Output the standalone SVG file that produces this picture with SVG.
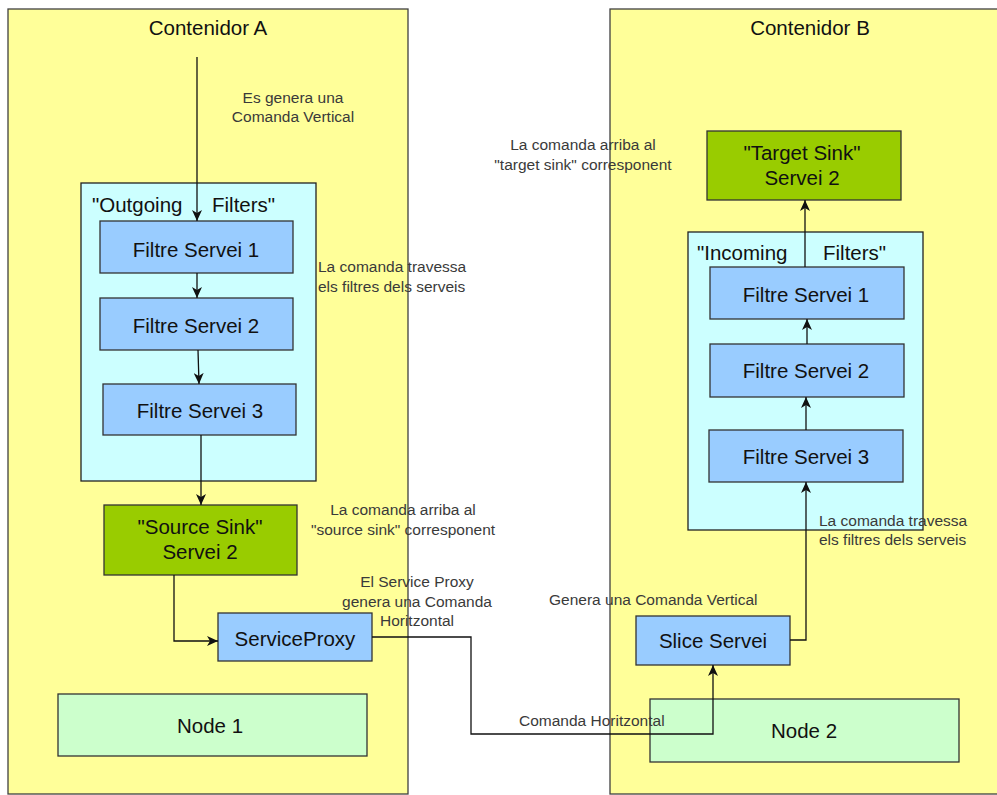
<svg xmlns="http://www.w3.org/2000/svg" width="997" height="795" viewBox="0 0 997 795">
<defs>
<style>
.cont{fill:#ffff99;stroke:#404040;stroke-width:1.3}
.grp{fill:#ccffff;stroke:#222;stroke-width:1.3}
.blue{fill:#99ccff;stroke:#333;stroke-width:1.3}
.sink{fill:#99cc00;stroke:#333;stroke-width:1.3}
.node{fill:#ccffcc;stroke:#333;stroke-width:1.3}
.t{font-family:"Liberation Sans",Arial,sans-serif;font-size:20.5px;fill:#111;text-anchor:middle}
.gt{font-family:"Liberation Sans",Arial,sans-serif;font-size:20.5px;fill:#111}
.lbl{font-family:"Liberation Sans",Arial,sans-serif;font-size:15.5px;fill:#3a3a3a}
.c{text-anchor:middle}
.ln{fill:none;stroke:#111;stroke-width:1.3}
</style>
<marker id="ah" markerUnits="userSpaceOnUse" markerWidth="12" markerHeight="10" refX="11" refY="5" orient="auto">
<path d="M0,0 L11,5 L0,10 L3,5 z" fill="#111"/>
</marker>
</defs>
<rect width="997" height="795" fill="#ffffff"/>

<g id="contenidorA">
<rect class="cont" x="8" y="9" width="400" height="785"/>
<text class="t" x="208" y="35">Contenidor A</text>
</g>
<g id="contenidorB">
<rect class="cont" x="610" y="9" width="400" height="785"/>
<text class="t" x="810" y="35">Contenidor B</text>
</g>

<g id="outgoingFilters">
<rect class="grp" x="81" y="183" width="235" height="298"/>
<text class="gt" x="92" y="212">"Outgoing <tspan x="212">Filters"</tspan></text>
</g>
<g id="incomingFilters">
<rect class="grp" x="688" y="232" width="235" height="298"/>
<text class="gt" x="697" y="260">"Incoming <tspan x="823">Filters"</tspan></text>
</g>

<g id="filtreA1"><rect class="blue" x="100" y="221" width="193" height="52"/><text class="t" x="196" y="257">Filtre Servei 1</text></g>
<g id="filtreA2"><rect class="blue" x="100" y="298" width="193" height="52"/><text class="t" x="196" y="333">Filtre Servei 2</text></g>
<g id="filtreA3"><rect class="blue" x="103" y="384" width="193" height="51"/><text class="t" x="200" y="418">Filtre Servei 3</text></g>
<g id="sourceSink"><rect class="sink" x="104" y="505" width="193" height="70"/><text class="t" x="200" y="534">"Source Sink"</text><text class="t" x="200" y="559">Servei 2</text></g>
<g id="serviceProxy"><rect class="blue" x="218" y="613" width="154" height="48"/><text class="t" x="295" y="646">ServiceProxy</text></g>
<g id="node1"><rect class="node" x="58" y="694" width="309" height="62"/><text class="t" x="210" y="733">Node 1</text></g>

<g id="targetSink"><rect class="sink" x="707" y="131" width="194" height="69"/><text class="t" x="802" y="160">"Target Sink"</text><text class="t" x="802" y="185">Servei 2</text></g>
<g id="filtreB1"><rect class="blue" x="710" y="267" width="194" height="52"/><text class="t" x="806" y="302">Filtre Servei 1</text></g>
<g id="filtreB2"><rect class="blue" x="710" y="344" width="194" height="53"/><text class="t" x="806" y="378">Filtre Servei 2</text></g>
<g id="filtreB3"><rect class="blue" x="709" y="430" width="194" height="52"/><text class="t" x="806" y="464">Filtre Servei 3</text></g>
<g id="sliceServei"><rect class="blue" x="636" y="616" width="154" height="49"/><text class="t" x="713" y="648">Slice Servei</text></g>
<g id="node2"><rect class="node" x="650" y="699" width="309" height="63"/><text class="t" x="804" y="738">Node 2</text></g>

<g id="connectors">
<path class="ln" d="M197,57 V221" marker-end="url(#ah)"/>
<path class="ln" d="M197,273 V298" marker-end="url(#ah)"/>
<path class="ln" d="M198,350 L199,384" marker-end="url(#ah)"/>
<path class="ln" d="M201,435 V505" marker-end="url(#ah)"/>
<path class="ln" d="M174,575 V641 H218" marker-end="url(#ah)"/>
<path class="ln" d="M372,637 H471 V734 H713 V665" marker-end="url(#ah)"/>
<path class="ln" d="M790,640 H806 V482" marker-end="url(#ah)"/>
<path class="ln" d="M806,430 V397" marker-end="url(#ah)"/>
<path class="ln" d="M807,344 V319" marker-end="url(#ah)"/>
<path class="ln" d="M805,267 V200" marker-end="url(#ah)"/>
</g>

<g id="labels">
<text class="lbl c" x="293" y="103">Es genera una</text>
<text class="lbl c" x="293" y="122">Comanda Vertical</text>
<text class="lbl" x="318" y="272">La comanda travessa</text>
<text class="lbl" x="318" y="292">els filtres dels serveis</text>
<text class="lbl c" x="403" y="515">La comanda arriba al</text>
<text class="lbl c" x="403" y="535">"source sink" corresponent</text>
<text class="lbl c" x="417" y="587">El Service Proxy</text>
<text class="lbl c" x="417" y="607">genera una Comanda</text>
<text class="lbl c" x="417" y="626">Horitzontal</text>
<text class="lbl c" x="583" y="150">La comanda arriba al</text>
<text class="lbl c" x="583" y="170">"target sink" corresponent</text>
<text class="lbl" x="819" y="526">La comanda travessa</text>
<text class="lbl" x="819" y="545">els filtres dels serveis</text>
<text class="lbl" x="549" y="605">Genera una Comanda Vertical</text>
<text class="lbl" x="519" y="726">Comanda Horitzontal</text>
</g>
</svg>
